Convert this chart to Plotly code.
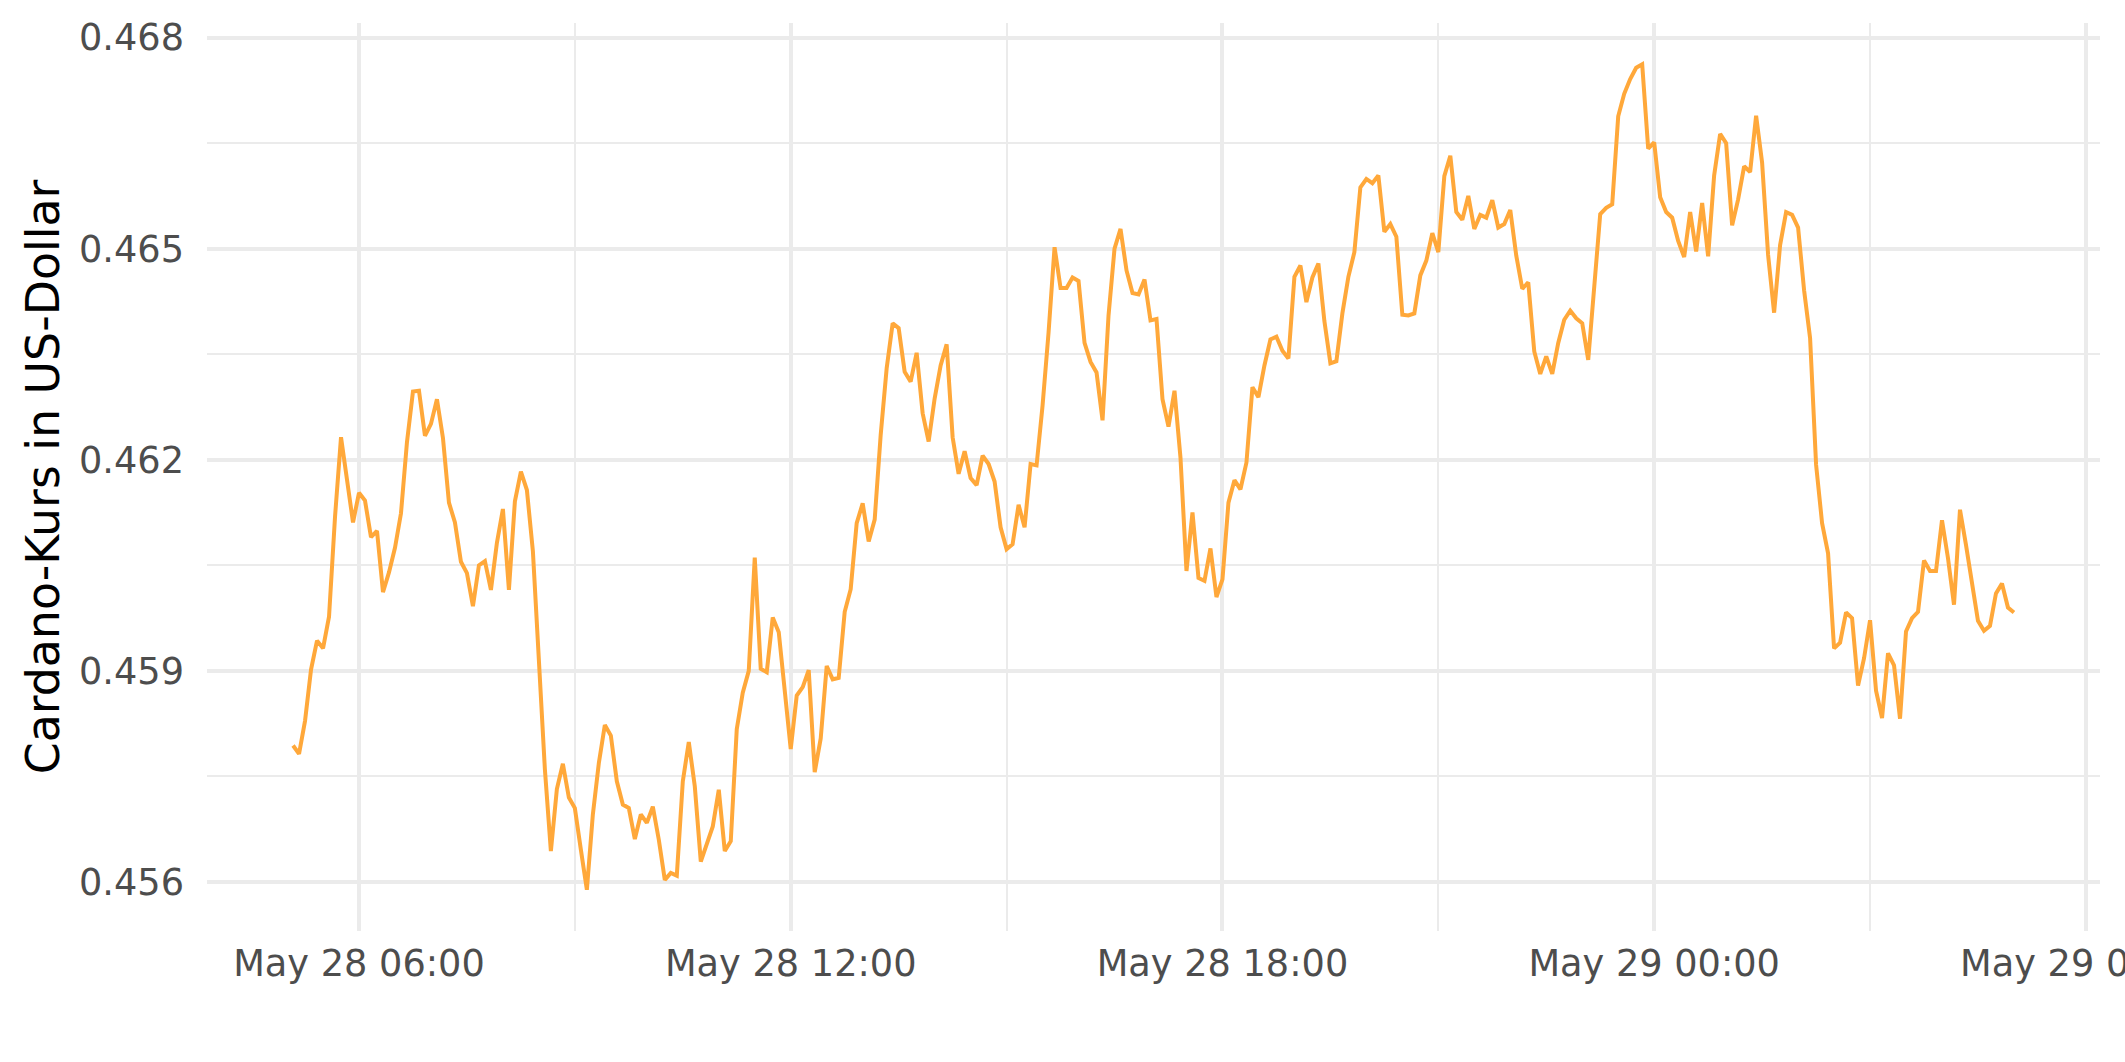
import pandas as pd
import plotly.graph_objects as go

# Minutes after 2022-05-28 00:00 (5-minute data, vertices)
minutes = [
    305, 310, 315, 320, 325, 330, 335, 340, 345, 355, 360, 365, 370, 375, 380, 385, 390, 395,
    400, 405, 410, 415, 420, 425, 430, 435, 440, 445, 450, 455, 460, 465, 470, 475, 480, 485,
    490, 495, 500, 505, 515, 520, 525, 530, 535, 540, 545, 550, 555, 560, 565, 570, 575, 580,
    585, 590, 595, 600, 605, 610, 615, 620, 625, 630, 635, 640, 645, 650, 655, 660, 665, 670,
    675, 680, 685, 690, 695, 700, 705, 710, 715, 720, 725, 730, 735, 740, 745, 750, 755, 760,
    765, 770, 775, 780, 785, 790, 795, 800, 805, 810, 815, 820, 825, 830, 835, 840, 845, 850,
    855, 860, 865, 870, 875, 880, 885, 890, 895, 900, 905, 910, 915, 920, 925, 930, 935, 940,
    945, 950, 955, 960, 965, 970, 975, 980, 985, 990, 995, 1000, 1005, 1010, 1015, 1020, 1025,
    1030, 1035, 1040, 1045, 1050, 1055, 1060, 1065, 1070, 1075, 1080, 1085, 1090, 1095, 1100,
    1105, 1110, 1115, 1120, 1125, 1130, 1135, 1140, 1145, 1150, 1155, 1160, 1165, 1170, 1175,
    1180, 1185, 1190, 1195, 1200, 1205, 1210, 1215, 1220, 1225, 1230, 1235, 1240, 1245, 1250,
    1255, 1260, 1265, 1270, 1275, 1280, 1285, 1290, 1295, 1300, 1305, 1310, 1315, 1320, 1325,
    1330, 1335, 1340, 1345, 1350, 1355, 1360, 1365, 1370, 1375, 1380, 1385, 1390, 1395, 1400,
    1405, 1410, 1415, 1420, 1425, 1430, 1435, 1440, 1445, 1450, 1455, 1460, 1465, 1470, 1475,
    1480, 1485, 1490, 1495, 1500, 1505, 1510, 1515, 1520, 1525, 1530, 1535, 1540, 1545, 1550,
    1555, 1560, 1565, 1570, 1575, 1580, 1585, 1590, 1595, 1600, 1605, 1610, 1615, 1620, 1625,
    1630, 1635, 1640, 1645, 1650, 1655, 1660, 1665, 1670, 1675, 1680, 1685, 1690, 1695, 1700,
    1705, 1710, 1715, 1720, 1725, 1730, 1735, 1740,
]

price_usd = [
    0.45794, 0.45782, 0.45829, 0.45902, 0.45943, 0.45932, 0.45977, 0.46119, 0.46232, 0.46111,
    0.46153, 0.46142, 0.46090, 0.46099, 0.46012, 0.46040, 0.46075, 0.46124, 0.46225, 0.46297,
    0.46298, 0.46234, 0.46251, 0.46286, 0.46231, 0.46139, 0.46111, 0.46055, 0.46039, 0.45992,
    0.46050, 0.46056, 0.46015, 0.46082, 0.46130, 0.46015, 0.46141, 0.46183, 0.46157, 0.46070,
    0.45760, 0.45644, 0.45732, 0.45768, 0.45720, 0.45705, 0.45646, 0.45589, 0.45696, 0.45769,
    0.45823, 0.45808, 0.45743, 0.45710, 0.45705, 0.45661, 0.45696, 0.45684, 0.45707, 0.45660,
    0.45603, 0.45613, 0.45609, 0.45743, 0.45799, 0.45736, 0.45629, 0.45653, 0.45679, 0.45731,
    0.45644, 0.45658, 0.45817, 0.45869, 0.45900, 0.46061, 0.45903, 0.45898, 0.45976, 0.45955,
    0.45865, 0.45789, 0.45865, 0.45877, 0.45901, 0.45756, 0.45804, 0.45907, 0.45888, 0.45890,
    0.45984, 0.46016, 0.46110, 0.46138, 0.46084, 0.46115, 0.46235, 0.46330, 0.46394, 0.46387,
    0.46325, 0.46311, 0.46352, 0.46266, 0.46226, 0.46287, 0.46334, 0.46364, 0.46232, 0.46180,
    0.46212, 0.46174, 0.46164, 0.46206, 0.46194, 0.46169, 0.46104, 0.46073, 0.46080, 0.46136,
    0.46104, 0.46194, 0.46192, 0.46277, 0.46381, 0.46502, 0.46444, 0.46444, 0.46459, 0.46454,
    0.46366, 0.46339, 0.46324, 0.46256, 0.46405, 0.46500, 0.46528, 0.46469, 0.46437, 0.46435,
    0.46456, 0.46398, 0.46400, 0.46286, 0.46247, 0.46298, 0.46203, 0.46042, 0.46125, 0.46032,
    0.46028, 0.46074, 0.46005, 0.46030, 0.46139, 0.46171, 0.46158, 0.46196, 0.46303, 0.46289,
    0.46334, 0.46371, 0.46375, 0.46355, 0.46344, 0.46460, 0.46476, 0.46424, 0.46459, 0.46479,
    0.46397, 0.46337, 0.46340, 0.46408, 0.46460, 0.46495, 0.46587, 0.46599, 0.46593, 0.46604,
    0.46524, 0.46535, 0.46517, 0.46406, 0.46405, 0.46408, 0.46462, 0.46483, 0.46522, 0.46495,
    0.46603, 0.46632, 0.46552, 0.46541, 0.46575, 0.46528, 0.46548, 0.46544, 0.46569, 0.46530,
    0.46535, 0.46555, 0.46490, 0.46443, 0.46452, 0.46354, 0.46322, 0.46347, 0.46322, 0.46366,
    0.46399, 0.46412, 0.46401, 0.46394, 0.46342, 0.46440, 0.46549, 0.46558, 0.46563, 0.46688,
    0.46720, 0.46741, 0.46757, 0.46762, 0.46642, 0.46651, 0.46573, 0.46552, 0.46544, 0.46511,
    0.46488, 0.46552, 0.46496, 0.46565, 0.46489, 0.46604, 0.46663, 0.46650, 0.46533, 0.46570,
    0.46617, 0.46609, 0.46689, 0.46622, 0.46491, 0.46409, 0.46505, 0.46552, 0.46548, 0.46530,
    0.46441, 0.46373, 0.46193, 0.46110, 0.46067, 0.45932, 0.45940, 0.45983, 0.45975, 0.45879,
    0.45918, 0.45972, 0.45872, 0.45833, 0.45925, 0.45908, 0.45832, 0.45956, 0.45975, 0.45984,
    0.46057, 0.46042, 0.46042, 0.46114, 0.46060, 0.45994, 0.46129, 0.46079, 0.46022, 0.45971,
    0.45957, 0.45964, 0.46010, 0.46024, 0.45990, 0.45983,
]

y_title = "Cardano-Kurs in US-Dollar"

times = pd.Timestamp("2022-05-28") + pd.to_timedelta(minutes, unit="min")
span = times.max() - times.min()
x_range = [str(times.min() - 0.05 * span), str(times.max() + 0.05 * span)]
ymin, ymax = min(price_usd), max(price_usd)
y_range = [ymin - 0.05 * (ymax - ymin), ymax + 0.05 * (ymax - ymin)]

GRID = "#EBEBEB"
TICK_COLOR = "#4D4D4D"
FONT = "DejaVu Sans"

fig = go.Figure(
    go.Scatter(
        x=times,
        y=price_usd,
        mode="lines",
        line=dict(color="#FFA83A", width=4),
        hoverinfo="x+y",
    )
)

fig.update_layout(
    width=2125,
    height=1062,
    margin=dict(l=207, r=25, t=23, b=131),
    paper_bgcolor="white",
    plot_bgcolor="white",
    showlegend=False,
    font=dict(family=FONT, color=TICK_COLOR),
)

fig.update_xaxes(
    type="date",
    range=x_range,
    tick0="2022-05-28 00:00",
    dtick=6 * 3600 * 1000,
    tickformat="%b %d %H:%M",
    showgrid=True,
    gridcolor=GRID,
    gridwidth=4,
    minor=dict(dtick=3 * 3600 * 1000, showgrid=True, gridcolor=GRID, gridwidth=2.3),
    zeroline=False,
    showline=False,
    ticks="",
    tickfont=dict(family=FONT, size=36.7, color=TICK_COLOR),
    ticklabelstandoff=7,
    ticklabeloverflow="allow",
    automargin=False,
)

fig.update_yaxes(
    range=y_range,
    tick0=0.456,
    dtick=0.003,
    tickformat=".3f",
    showgrid=True,
    gridcolor=GRID,
    gridwidth=4,
    minor=dict(dtick=0.0015, showgrid=True, gridcolor=GRID, gridwidth=2.3),
    zeroline=False,
    showline=False,
    ticks="",
    tickfont=dict(family=FONT, size=36.7, color=TICK_COLOR),
    ticklabelstandoff=22,
    title=dict(text=y_title, font=dict(family=FONT, size=45.8, color="black"), standoff=4),
    automargin=False,
)

fig.write_html(
    "out.html",
    config={"displayModeBar": False},
    post_script="document.body.style.margin='0';",
)
